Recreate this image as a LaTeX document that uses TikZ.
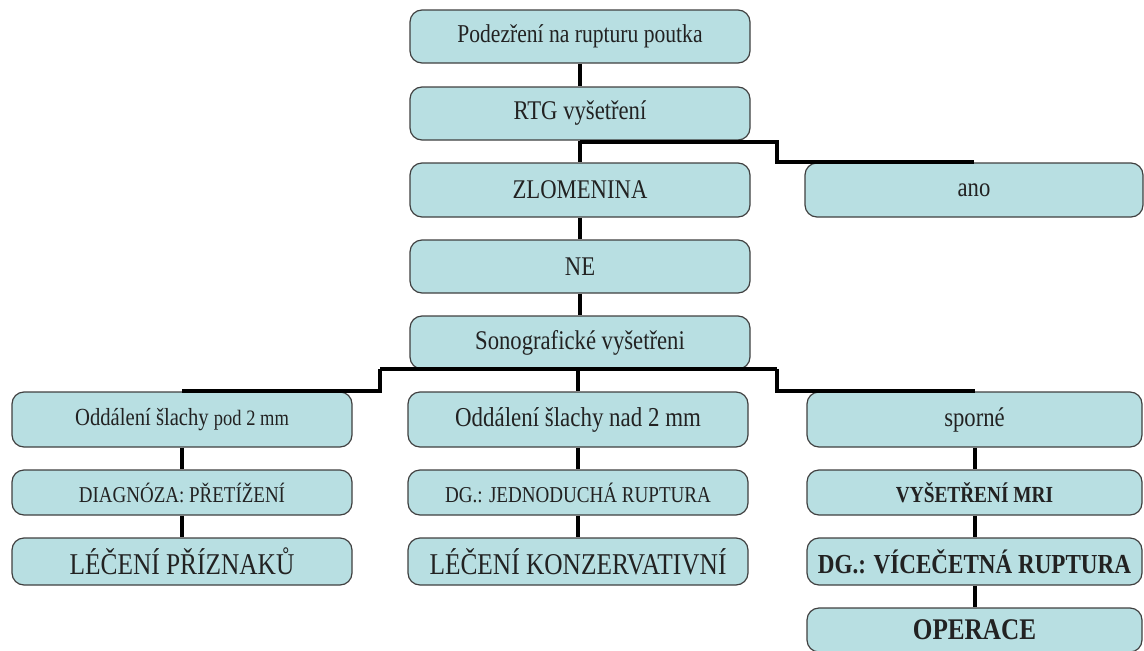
\documentclass[tikz,border=0pt]{standalone}
\usepackage{fontspec}
\setmainfont{Liberation Serif}[FakeStretch=0.84]
\newcommand\fs[1]{\fontsize{#1}{#1}\selectfont}
\definecolor{boxc}{HTML}{B8DFE2}
\definecolor{txtc}{HTML}{222222}
\tikzset{
  box/.style={draw=black!75, line width=1.2pt, fill=boxc, rounded corners=12pt,
    inner sep=0pt, text=txtc, minimum width=340pt},
  conn/.style={draw=black, line width=4pt},
}
\begin{document}
\begin{tikzpicture}[x=1pt,y=-1pt]
\useasboundingbox (0,0) rectangle (1144,651);
% main column
\node[box, minimum height=53pt] (top) at (580,36.5) {\fs{25.7}Podezření na rupturu poutka};
\node[box, minimum height=53pt] (rtg) at (580,113.5) {\fs{27}RTG vyšetření};
\node[box, minimum height=54pt] (zlom) at (580,190) {\fs{27}ZLOMENINA};
\node[box, minimum height=54pt, minimum width=338pt] (ano) at (974,190) {\fs{27}ano};
\node[box, minimum height=53pt] (ne) at (580,266.5) {\fs{27}NE};
\node[box, minimum height=53pt] (sono) at (580,342.5) {\fs{27}Sonografické vyšetřeni};
% three branches
\node[box, minimum height=55pt] (l1) at (182,419.5) {\fs{24.6}Oddálení šlachy \fs{22}pod 2 mm};
\node[box, minimum height=55pt] (m1) at (578,419.5) {\fs{27.3}Oddálení šlachy nad 2 mm};
\node[box, minimum height=55pt, minimum width=335pt] (r1) at (974.5,419.5) {\fs{27}sporné};
\node[box, minimum height=45pt] (l2) at (182,492.5) {\fs{22.6}DIAGNÓZA: PŘETÍŽENÍ};
\node[box, minimum height=45pt] (m2) at (578,492.5) {\fs{22.7}DG.: JEDNODUCHÁ RUPTURA};
\node[box, minimum height=45pt, minimum width=335pt] (r2) at (974.5,492.5) {\fs{23}\bfseries VYŠETŘENÍ MRI};
\node[box, minimum height=47pt] (l3) at (182,561.5) {\fs{30.2}LÉČENÍ PŘÍZNAKŮ};
\node[box, minimum height=47pt] (m3) at (578,561.5) {\fs{30.2}LÉČENÍ KONZERVATIVNÍ};
\node[box, minimum height=47pt, minimum width=335pt] (r3) at (974.5,561.5) {\fs{27.5}\bfseries DG.: VÍCEČETNÁ RUPTURA};
\node[box, minimum height=44pt, minimum width=335pt] (r4) at (974.5,630) {\fs{30}\bfseries OPERACE};
% connector bends
\coordinate (b1) at (777,142);
\coordinate (sl) at (380,369);
\coordinate (sr) at (777,369);
% connectors
\draw[conn] (top.south) -- (rtg.north);
\draw[conn] (rtg.south) -- (zlom.north);
\draw[conn] (rtg.south |- b1) -- (b1) -- (b1 |- ano.north) -- (ano.north);
\draw[conn] (zlom.south) -- (ne.north);
\draw[conn] (ne.south) -- (sono.north);
\draw[conn] (sl) -- (sr);
\draw[conn] (sl) -- (sl |- l1.north) -- (l1.north);
\draw[conn] (m1.north |- sl) -- (m1.north);
\draw[conn] (sr) -- (sr |- r1.north) -- (r1.north);
\draw[conn] (l1.south) -- (l2.north);
\draw[conn] (l2.south) -- (l3.north);
\draw[conn] (m1.south) -- (m2.north);
\draw[conn] (m2.south) -- (m3.north);
\draw[conn] (r1.south) -- (r2.north);
\draw[conn] (r2.south) -- (r3.north);
\draw[conn] (r3.south) -- (r4.north);
\end{tikzpicture}
\end{document}
